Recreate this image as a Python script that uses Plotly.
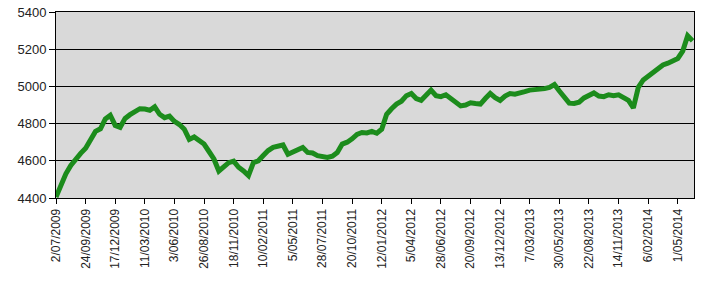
import pandas as pd
import plotly.graph_objects as go

start_date = "2009-07-02"
# biweekly index values
values = [
    4405, 4470, 4530, 4575, 4612, 4640, 4668, 4720, 4758, 4772,
    4825, 4845, 4790, 4780, 4828, 4848, 4862, 4880, 4878, 4872,
    4890, 4850, 4832, 4840, 4812, 4795, 4770, 4715, 4728, 4712,
    4690, 4650, 4610, 4545, 4565, 4590, 4598, 4565, 4545, 4520,
    4590, 4600, 4628, 4655, 4672, 4678, 4685, 4635, 4645, 4658,
    4672, 4645, 4642, 4628, 4625, 4618, 4625, 4645, 4690, 4700,
    4718, 4742, 4752, 4750, 4758, 4748, 4770, 4850, 4880, 4905,
    4920, 4950, 4962, 4935, 4925, 4955, 4980, 4950, 4945, 4955,
    4935, 4920, 4895, 4900, 4912, 4908, 4905, 4935, 4962, 4940,
    4925, 4948, 4962, 4958, 4968, 4972, 4980, 4982, 4990, 4988,
    4995, 5010, 4975, 4940, 4910, 4908, 4915, 4938, 4950, 4965,
    4948, 4945, 4955, 4950, 4955, 4940, 4925, 4885, 4995, 5035,
    5055, 5072, 5095, 5115, 5125, 5140, 5150, 5190, 5272, 5245,
]
dates = pd.date_range(start_date, periods=len(values), freq="14D")

tick_labels = [
    "2/07/2009", "24/09/2009", "17/12/2009", "11/03/2010", "3/06/2010",
    "26/08/2010", "18/11/2010", "10/02/2011", "5/05/2011", "28/07/2011",
    "20/10/2011", "12/01/2012", "5/04/2012", "28/06/2012", "20/09/2012",
    "13/12/2012", "7/03/2013", "30/05/2013", "22/08/2013", "14/11/2013",
    "6/02/2014", "1/05/2014",
]
tick_dates = pd.to_datetime(tick_labels, format="%d/%m/%Y")
y_ticks = [4400, 4600, 4800, 5000, 5200, 5400]

fig = go.Figure(go.Scatter(
    x=dates, y=values, mode="lines",
    line=dict(color="#1c8c1c", width=5),
    hoverinfo="skip",
))

fig.update_layout(
    width=702, height=289,
    margin=dict(l=56, r=8, t=12, b=91),
    paper_bgcolor="white",
    plot_bgcolor="#d9d9d9",
    showlegend=False,
    font=dict(family="Liberation Sans, Arial, sans-serif", size=12, color="#222"),
)
fig.update_xaxes(
    range=[dates[0], dates[-1] + pd.Timedelta(days=4)],
    tickvals=tick_dates, ticktext=tick_labels, tickangle=-90,
    ticks="outside", ticklen=5, tickcolor="black",
    showgrid=False, showline=True, linecolor="black", linewidth=1, mirror=True,
    tickfont=dict(size=12), automargin=False,
)
fig.update_yaxes(
    range=[4400, 5400], tickvals=y_ticks,
    ticks="outside", ticklen=6, tickcolor="black",
    showgrid=True, gridcolor="black", gridwidth=1,
    showline=True, linecolor="black", linewidth=1, mirror=True,
    zeroline=False, tickfont=dict(size=13), automargin=False,
)

fig.write_html(
    "out.html",
    config={"displayModeBar": False},
    post_script="document.body.style.margin='0';document.body.style.padding='0';",
)
